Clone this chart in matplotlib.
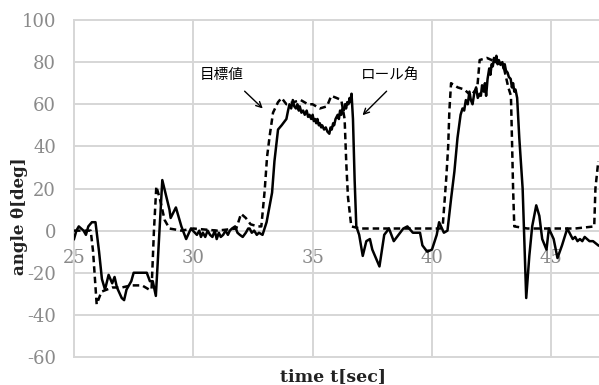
import numpy as np
import matplotlib
matplotlib.use("Agg")
import matplotlib.pyplot as plt

plt.rcParams["axes.unicode_minus"] = False

# measured roll angle (solid line)
rollTime = [25.0, 25.1, 25.2, 25.3, 25.4, 25.5, 25.6, 25.75, 25.9, 26.05,
            26.17, 26.3, 26.45, 26.6, 26.7, 26.8, 27.0, 27.1, 27.2, 27.4,
            27.5, 27.8, 28.05, 28.18, 28.3, 28.43, 28.7, 28.85, 29.0, 29.05,
            29.27, 29.5, 29.7, 29.9, 30.15, 30.25, 30.32, 30.4, 30.5, 30.6,
            30.7, 30.8, 30.9, 30.98, 31.07, 31.15, 31.25, 31.35, 31.45, 31.53,
            31.62, 31.75, 31.85, 31.95, 32.07, 32.2, 32.3, 32.36, 32.45, 32.55,
            32.66, 32.75, 32.9, 33.07, 33.3, 33.4, 33.55, 33.7, 33.9, 33.97,
            34.03, 34.1, 34.17, 34.23, 34.3, 34.36, 34.42, 34.46, 34.53, 34.6,
            34.67, 34.75, 34.81, 34.87, 34.94, 35.0, 35.05, 35.1, 35.15, 35.2,
            35.26, 35.3, 35.36, 35.4, 35.48, 35.55, 35.62, 35.7, 35.75, 35.8,
            35.86, 35.9, 35.96, 36.05, 36.1, 36.15, 36.2, 36.25, 36.3, 36.36,
            36.4, 36.45, 36.5, 36.55, 36.6, 36.63, 36.69, 36.76, 36.83, 36.95,
            37.1, 37.25, 37.4, 37.5, 37.8, 38.0, 38.2, 38.4, 38.6, 38.8,
            38.97, 39.2, 39.5, 39.6, 39.8, 40.0, 40.2, 40.3, 40.5, 40.65,
            40.8, 40.94, 41.07, 41.2, 41.28, 41.35, 41.42, 41.5, 41.57, 41.63,
            41.7, 41.77, 41.85, 41.92, 42.0, 42.05, 42.1, 42.17, 42.22, 42.27,
            42.33, 42.4, 42.45, 42.5, 42.55, 42.6, 42.65, 42.7, 42.75, 42.8,
            42.87, 42.95, 43.0, 43.05, 43.1, 43.17, 43.22, 43.3, 43.35, 43.4,
            43.45, 43.5, 43.57, 43.66, 43.8, 43.88, 43.95, 44.08, 44.2, 44.37,
            44.5, 44.62, 44.8, 44.9, 45.1, 45.26, 45.45, 45.67, 45.9, 46.0,
            46.1, 46.2, 46.3, 46.4, 46.5, 46.6, 46.75, 46.97]
rollAngle = [-4, 0, 2, 1, 0, -2, 2, 4, 4, -10,
             -23, -28, -21, -25, -22, -27, -32, -33, -28, -24,
             -20, -20, -20, -24, -24, -31, 24, 17, 10, 6,
             11, 2, -4, 1, -2, 0, -3, -1, -3, 0,
             -2, -3, 0, -4, -1, -3, -2, 0, -2, 0,
             1, 2, -1, -2, -3, -1, 1, 1, -1, 0,
             -2, -1, -2, 4, 18, 33, 48, 50, 53, 57,
             60, 58, 62, 59, 58, 60, 57, 59, 56, 57,
             55, 57, 54, 55, 53, 55, 52, 53, 51, 53,
             50, 51, 49, 50, 48, 49, 47, 46, 49, 48,
             51, 50, 53, 55, 53, 57, 55, 58, 57, 60,
             58, 61, 60, 63, 61, 65, 53, 24, 2, -2,
             -12, -5, -4, -9, -17, -2, 1, -5, -2, 1,
             2, -1, -1, -7, -10, -9, -2, 4, -1, 0,
             15, 28, 44, 55, 58, 57, 62, 60, 66, 62,
             60, 65, 68, 63, 65, 64, 69, 66, 70, 64,
             72, 77, 74, 79, 78, 82, 80, 83, 79, 81,
             79, 80, 77, 79, 76, 75, 73, 72, 68, 70,
             66, 67, 63, 44, 20, -7, -32, -12, 2, 12,
             7, -4, -9, 1, -4, -13, -7, 1, -4, -3,
             -5, -4, -5, -3, -4, -5, -5, -7]

# target angle (dashed line)
targetTime = [25.0, 25.7, 25.8, 25.95, 26.15, 26.6, 27.0, 27.4, 27.85, 28.15,
              28.25, 28.35, 28.45, 28.6, 28.8, 29.0, 29.5, 30.0, 31.0, 31.8,
              32.0, 32.2, 32.4, 32.7, 32.85, 32.99, 33.09, 33.2, 33.34, 33.55,
              33.7, 33.9, 34.2, 34.5, 34.8, 35.0, 35.3, 35.6, 35.78, 36.0,
              36.2, 36.34, 36.41, 36.48, 36.62, 37.0, 38.0, 39.0, 40.0, 40.35,
              40.45, 40.6, 40.68, 40.73, 40.8, 41.08, 41.36, 41.64, 41.9, 42.0,
              42.3, 42.7, 43.0, 43.2, 43.31, 43.36, 43.4, 43.45, 44.0, 45.0,
              46.0, 46.8, 46.85, 46.97]
targetAngle = [0, 0, -10, -35, -29, -27, -27, -26, -26, -28,
               -28, 0, 21, 15, 5, 1, 0, 1, 0, 1,
               8, 6, 3, 2, 2, 19, 35, 45, 56, 61,
               63, 60, 61, 62, 60, 60, 58, 59, 64, 63,
               62, 53, 32, 16, 2, 1, 1, 1, 1, 1,
               2, 25, 40, 57, 70, 68, 67, 64, 68, 81,
               82, 80, 78, 68, 64, 40, 20, 2, 1, 1,
               1, 2, 20, 33]

xTicks = [25, 30, 35, 40, 45]
yTicks = [-60, -40, -20, 0, 20, 40, 60, 80, 100]

gridColor = "#d6d6d6"
tickColor = "#8a8a8a"
serif = ["DejaVu Serif"]
cjk = ["Noto Sans CJK JP", "DejaVu Sans"]

fig = plt.figure(figsize=(5.99, 3.85), dpi=100)
ax = fig.add_axes([74 / 599, 1 - 357 / 385, 1 - 74 / 599, 337 / 385])
ax.set_xlim(25, 47)
ax.set_ylim(-60, 100)

for y in yTicks:
    ax.axhline(y, color=gridColor, lw=1.4, zorder=0, clip_on=False)
for x in xTicks:
    ax.axvline(x, color=gridColor, lw=1.4, zorder=0, clip_on=False)

ax.plot(targetTime, targetAngle, color="black", lw=1.8,
        dashes=(2.6, 1.6), zorder=3)
ax.plot(rollTime, rollAngle, color="black", lw=1.8, zorder=4)

for s in ax.spines.values():
    s.set_visible(False)
ax.spines["bottom"].set_position(("data", 0))
ax.set_xticks(xTicks)
ax.set_yticks(yTicks)
ax.set_xticklabels([str(v) for v in xTicks])
ax.set_yticklabels([str(v) for v in yTicks])
ax.tick_params(axis="both", length=0, colors=tickColor, labelsize=13)
ax.tick_params(axis="x", pad=13)
ax.tick_params(axis="y", pad=13)
for lab in ax.get_xticklabels() + ax.get_yticklabels():
    lab.set_family(serif)

fig.text(333 / 599, 1 - 377 / 385, "time t[sec]", ha="center", va="center",
         family=serif, fontweight="bold", fontsize=12.5, color="#222222")
fig.text(20 / 599, 1 - 216 / 385, "angle θ[deg]", ha="center", va="center",
         rotation=90, family=serif, fontweight="bold", fontsize=12,
         color="#222222")

arrow = dict(arrowstyle="->", lw=1.0, color="black", shrinkA=0, shrinkB=0)
ax.annotate("", xy=(32.91, 58), xytext=(32.15, 66.2), arrowprops=arrow)
ax.annotate("", xy=(37.09, 54.8), xytext=(38.1, 66.2), arrowprops=arrow)
ax.text(31.2, 73.8, "目標値", ha="center", va="center", family=cjk,
        fontsize=10.5, color="black")
ax.text(38.26, 73.8, "ロール角", ha="center", va="center", family=cjk,
        fontsize=10.5, color="black")

fig.savefig("out.png", dpi=100)
